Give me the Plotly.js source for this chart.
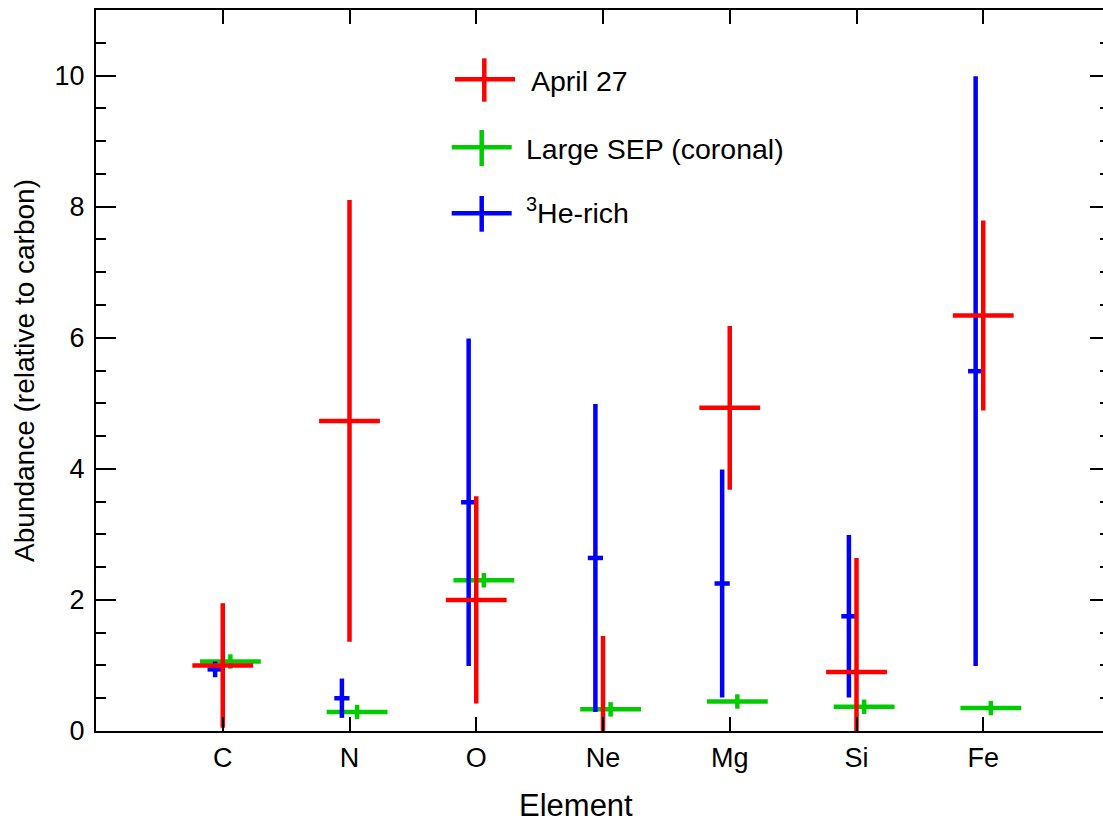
<!DOCTYPE html>
<html>
<head>
<meta charset="utf-8">
<script src="https://cdn.plot.ly/plotly-3.0.1.min.js"></script>
<style>
  html, body { margin: 0; padding: 0; overflow: hidden; background: #fff; }
  #chart { width: 1130px; height: 824px; }
</style>
</head>
<body>
<div id="chart"></div>
<script>
// ---- data ----
const categories = ['C', 'N', 'O', 'Ne', 'Mg', 'Si', 'Fe'];

const april27     = [1.00, 4.73, 2.00, -0.05, 4.93, 0.90, 6.34];
const april27Err  = [0.95, 3.37, 1.58, 1.50, 1.25, 1.74, 1.45];

const largeSep    = [1.06, 0.29, 2.30, 0.33, 0.45, 0.37, 0.35];
const largeSepErr = [0.11, 0.11, 0.11, 0.11, 0.11, 0.11, 0.11];

const he3         = [0.94, 0.50, 3.49, 2.64, 2.25, 1.75, 5.49];
const he3Err      = [0.12, 0.30, 2.50, 2.35, 1.74, 1.24, 4.50];

const seriesNames = ['April 27', 'Large SEP (coronal)', '<sup>3</sup>He-rich'];
const xTitle = 'Element';
const yTitle = 'Abundance (relative to carbon)';

// ---- style constants ----
const RED = '#ff0000', GREEN = '#00cc00', BLUE = '#0000ff';
const FONT = 'Liberation Sans, Arial, Helvetica, sans-serif';
const THICK = 4.5;
const OFFSET = 0.06;          // horizontal jitter of the side series
const WIDE_XERR = 0.24;       // half-width of the red / green horizontal bars
const NARROW_XERR = 0.06;     // half-width of the blue horizontal bars

const idx = categories.map((_, i) => i + 1);

function errTrace(name, xs, ys, yerr, xerr, color) {
  return {
    type: 'scatter', mode: 'markers', name: name, showlegend: false,
    x: xs, y: ys,
    marker: { size: 1, color: color, opacity: 0 },
    error_y: { type: 'data', array: yerr, visible: true, color: color, thickness: THICK, width: 0 },
    error_x: { type: 'data', array: xs.map(() => xerr), visible: true, color: color, thickness: THICK, width: 0 },
    hoverinfo: 'skip'
  };
}

const traces = [
  errTrace('Large SEP (coronal)', idx.map(v => v + OFFSET), largeSep, largeSepErr, WIDE_XERR, GREEN),
  errTrace('3He-rich', idx.map(v => v - OFFSET), he3, he3Err, NARROW_XERR, BLUE),
  errTrace('April 27', idx, april27, april27Err, WIDE_XERR, RED)
];

// ---- hand-drawn legend (crosses + labels), in pixel -> paper coords ----
const PL = 96, PR = 1110, PT = 10, PB = 731;
const px = x => (x - PL) / (PR - PL);
const py = y => (PB - y) / (PB - PT);

const legendItems = [
  { color: RED,   hx0: 455,   hx1: 515,   hy: 79.3,  vx: 484.3, vy0: 58.3, vy1: 101.7, tx: 530,   ty: 81 },
  { color: GREEN, hx0: 451.7, hx1: 511.7, hy: 147.3, vx: 481.7, vy0: 130,  vy1: 166,   tx: 525,   ty: 149 },
  { color: BLUE,  hx0: 451.7, hx1: 511.7, hy: 213.3, vx: 481.7, vy0: 196,  vy1: 231.7, tx: 524.5, ty: 211 }
];

const shapes = [];
const annotations = [];
legendItems.forEach((it, i) => {
  shapes.push({ type: 'line', xref: 'paper', yref: 'paper',
    x0: px(it.hx0), x1: px(it.hx1), y0: py(it.hy), y1: py(it.hy),
    line: { color: it.color, width: THICK } });
  shapes.push({ type: 'line', xref: 'paper', yref: 'paper',
    x0: px(it.vx), x1: px(it.vx), y0: py(it.vy0), y1: py(it.vy1),
    line: { color: it.color, width: THICK } });
  annotations.push({ xref: 'paper', yref: 'paper', x: px(it.tx), y: py(it.ty),
    xanchor: 'left', yanchor: 'middle', showarrow: false, borderpad: 0,
    text: seriesNames[i], font: { family: FONT, size: 28.5, color: '#000' } });
});

// x-axis title (centred on the visible area, as in the reference)
annotations.push({ xref: 'paper', yref: 'paper', x: px(576), y: py(805),
  xanchor: 'center', yanchor: 'middle', showarrow: false, borderpad: 0,
  text: xTitle, font: { family: FONT, size: 31, color: '#000' } });

const layout = {
  width: 1130, height: 824,
  margin: { l: PL, r: 1130 - PR, t: PT, b: 824 - PB },
  paper_bgcolor: '#fff', plot_bgcolor: '#fff',
  showlegend: false,
  font: { family: FONT, color: '#000' },
  xaxis: {
    range: [0, 8], tickvals: idx, ticktext: categories,
    showgrid: false, zeroline: false,
    showline: true, linecolor: '#000', linewidth: 2, mirror: 'ticks',
    ticks: 'inside', ticklen: 14, tickwidth: 2, tickcolor: '#000',
    tickfont: { family: FONT, size: 27, color: '#000' },
    ticklabelstandoff: 2
  },
  yaxis: {
    range: [0, 11], tickvals: [0, 2, 4, 6, 8, 10],
    showgrid: false, zeroline: false,
    showline: true, linecolor: '#000', linewidth: 2, mirror: 'ticks',
    ticks: 'inside', ticklen: 20, tickwidth: 2, tickcolor: '#000',
    minor: { dtick: 0.5, ticks: 'inside', ticklen: 10, tickwidth: 2, tickcolor: '#000', showgrid: false },
    tickfont: { family: FONT, size: 27, color: '#000' },
    ticklabelstandoff: 4,
    title: { text: yTitle, font: { family: FONT, size: 28, color: '#000' }, standoff: 12 }
  },
  shapes: shapes,
  annotations: annotations
};

Plotly.newPlot('chart', traces, layout, { staticPlot: true, displayModeBar: false });
</script>
</body>
</html>
